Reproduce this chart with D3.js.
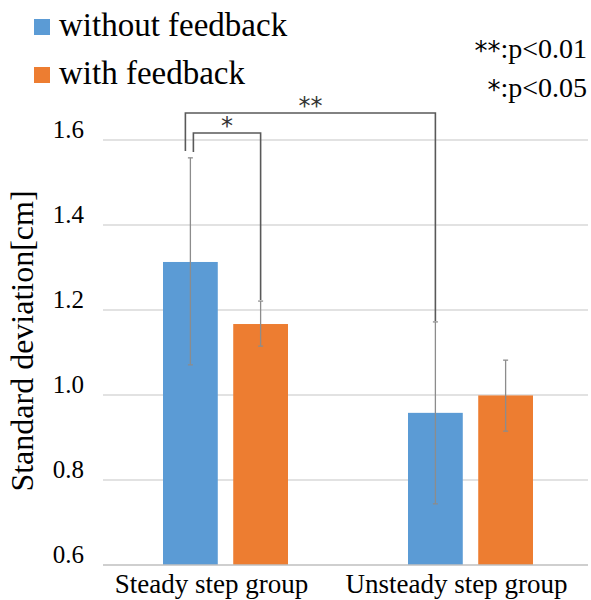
<script src="https://d3js.org/d3.v7.min.js"></script>
<style>
  body { margin: 0; background: #fff; }
</style>
<div id="my_dataviz"></div>
<script>
// data
var groups = ["Steady step group", "Unsteady step group"];
var series = ["without feedback", "with feedback"];
var colors = ["#5b9bd5", "#ed7d31"];
var means = [[1.313, 1.167], [0.958, 0.999]];
var errLow = [[1.071, 1.115], [0.744, 0.915]];
var errHigh = [[1.558, 1.221], [1.172, 1.082]];
var yTicks = [0.6, 0.8, 1.0, 1.2, 1.4, 1.6];
var noteStars = ["**", "*"];
var noteText = [":p<0.01", ":p<0.05"];

var W = 591, H = 600;
var serif = "'Liberation Serif', 'DejaVu Serif', 'Times New Roman', serif";

var svg = d3.select("#my_dataviz").append("svg")
  .attr("width", W).attr("height", H)
  .attr("font-family", serif);

var y = d3.scaleLinear().domain([0.6, 1.6]).range([565, 140]);
var x0 = d3.scaleBand().domain(groups).range([103, 593]);
var x1 = d3.scaleBand().domain(series).range([-62.5, 62.5]).paddingInner(0.22);

// gridlines
svg.append("g").selectAll("line")
  .data(yTicks.slice(1))
  .enter().append("line")
    .attr("x1", 103).attr("x2", 588)
    .attr("y1", d => y(d)).attr("y2", d => y(d))
    .attr("stroke", "#d9d9d9").attr("stroke-width", 1.3);

// y tick labels (sit just above their gridline)
svg.append("g").selectAll("text")
  .data(yTicks)
  .enter().append("text")
    .attr("x", 84).attr("y", d => y(d) - 2)
    .attr("text-anchor", "end")
    .attr("font-size", 25)
    .text(d => d.toFixed(1));

// bars
var gGroup = svg.selectAll(".grp")
  .data(groups)
  .enter().append("g")
    .attr("transform", d => "translate(" + (x0(d) + x0.bandwidth() / 2) + ",0)");

gGroup.selectAll("rect")
  .data((d, i) => series.map((s, j) => ({s: s, j: j, v: means[i][j]})))
  .enter().append("rect")
    .attr("x", d => x1(d.s))
    .attr("width", x1.bandwidth())
    .attr("y", d => y(d.v))
    .attr("height", d => y(0.6) - y(d.v))
    .attr("fill", d => colors[d.j]);

// x axis line
svg.append("line")
  .attr("x1", 103).attr("x2", 588)
  .attr("y1", y(0.6)).attr("y2", y(0.6))
  .attr("stroke", "#bfbfbf").attr("stroke-width", 1.5);

// error bars
var eb = gGroup.selectAll(".err")
  .data((d, i) => series.map((s, j) => ({s: s, j: j, lo: errLow[i][j], hi: errHigh[i][j]})))
  .enter().append("g")
    .attr("transform", d => "translate(" + (x1(d.s) + x1.bandwidth() / 2) + ",0)");
eb.append("line")
  .attr("x1", 0).attr("x2", 0)
  .attr("y1", d => y(d.lo)).attr("y2", d => y(d.hi))
  .attr("stroke", "#8c8c8c").attr("stroke-width", 1.3);
eb.selectAll(".cap")
  .data(d => [d.lo, d.hi])
  .enter().append("line")
    .attr("x1", -2.5).attr("x2", 2.5)
    .attr("y1", d => y(d)).attr("y2", d => y(d))
    .attr("stroke", "#8c8c8c").attr("stroke-width", 1.3);

// significance brackets
function cx(gi, si) { return x0(groups[gi]) + x0.bandwidth() / 2 + x1(series[si]) + x1.bandwidth() / 2; }
var bc = "#595959";
// ** : steady without vs unsteady without
var b1 = [[cx(0, 0) - 5, 151], [cx(0, 0) - 5, 113], [cx(1, 0), 113], [cx(1, 0), y(errHigh[1][0]) - 1]];
// *  : steady without vs steady with
var b2 = [[cx(0, 0) + 3, 152], [cx(0, 0) + 3, 133], [cx(0, 1), 133], [cx(0, 1), y(errHigh[0][1]) - 1]];
[b1, b2].forEach(function(p) {
  svg.append("path")
    .attr("d", d3.line()(p))
    .attr("fill", "none").attr("stroke", bc).attr("stroke-width", 1.6);
});
svg.append("text").attr("x", (b1[1][0] + b1[2][0]) / 2).attr("y", 114)
  .attr("text-anchor", "middle").attr("font-size", 24).attr("font-family", "DejaVu Sans").attr("fill", "#333")
  .text("**");
svg.append("text").attr("x", (b2[1][0] + b2[2][0]) / 2).attr("y", 134)
  .attr("text-anchor", "middle").attr("font-size", 24).attr("font-family", "DejaVu Sans").attr("fill", "#333")
  .text("*");

// x labels
svg.selectAll(".xl")
  .data(groups)
  .enter().append("text")
    .attr("x", d => x0(d) + x0.bandwidth() / 2 - 14)
    .attr("y", 593)
    .attr("text-anchor", "middle")
    .attr("font-size", 27)
    .text(d => d);

// y label
svg.append("text")
  .attr("transform", "translate(33,341) rotate(-90)")
  .attr("text-anchor", "middle")
  .attr("font-size", 32)
  .text("Standard deviation[cm]");

// legend
var lg = svg.selectAll(".lg")
  .data(series)
  .enter().append("g")
    .attr("transform", (d, i) => "translate(34," + (19 + i * 48) + ")");
lg.append("rect").attr("width", 16).attr("height", 16).attr("fill", (d, i) => colors[i]);
lg.append("text").attr("x", 25).attr("y", 17).attr("font-size", 33).text(d => d);

// p-value notes
var nt = svg.selectAll(".note")
  .data(noteText)
  .enter().append("text")
    .attr("x", 587).attr("y", (d, i) => 58 + i * 39)
    .attr("text-anchor", "end")
    .attr("font-size", 28);
nt.append("tspan").attr("font-family", "DejaVu Sans").attr("font-size", 26).attr("dy", 2)
  .text((d, i) => noteStars[i]);
nt.append("tspan").attr("dy", -2).text(d => d);
</script>
